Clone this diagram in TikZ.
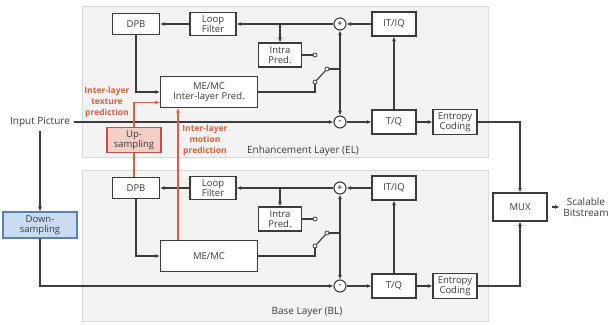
\documentclass[tikz,border=0pt]{standalone}
\usepackage{fontspec}
\setmainfont{Open Sans}
\usetikzlibrary{arrows.meta,calc}

\definecolor{lngray}{HTML}{3C3C3C}
\definecolor{layerfill}{HTML}{F3F3F3}
\definecolor{layerline}{HTML}{DADADA}
\definecolor{ilred}{HTML}{D6623F}
\definecolor{upfill}{HTML}{F4CFC7}
\definecolor{upline}{HTML}{C0504D}
\definecolor{downfill}{HTML}{C9DCF2}
\definecolor{downline}{HTML}{5A80B8}

\tikzset{
  blk/.style={draw=lngray, line width=1.1pt, fill=white, align=center, inner sep=1pt,
    font=\fontsize{9.5}{10}\selectfont},
  sum/.style={circle, draw=lngray, line width=1.1pt, fill=white, minimum size=12pt,
    inner sep=0pt, font=\fontsize{8}{8}\selectfont\bfseries},
  term/.style={circle, draw=lngray, line width=0.8pt, fill=white, minimum size=4pt, inner sep=0pt},
  lay/.style={fill=layerfill, draw=layerline, line width=0.8pt},
  arr/.style={-{Latex[length=4.5pt,width=4pt]}},
  ilink/.style={draw=ilred, line width=1.2pt},
  ilabel/.style={text=ilred, font=\fontsize{8.5}{11}\selectfont\bfseries, align=center},
  txt/.style={font=\fontsize{10}{11}\selectfont, align=center},
}

\begin{document}
\begin{tikzpicture}[x=1pt, y=-1pt, line width=1.1pt, color=lngray]
  \useasboundingbox (0,0) rectangle (610,324);
  % layer backgrounds
  \filldraw[lay] (82,6) rectangle (488,157);
  \filldraw[lay] (82,170) rectangle (488,321);

  \node[blk, minimum width=97pt, minimum height=31pt] (meE) at (209,92) {ME/MC\\Inter-layer Pred.};
  \node[blk, minimum width=97pt, minimum height=31pt] (meB) at (209,256) {ME/MC};

  % the same coding loop in both layers
  \foreach \L/\dy in {E/0,B/164}{
    \node[blk, minimum width=47pt, minimum height=21pt] (dpb\L) at (136,24+\dy) {DPB};
    \node[blk, minimum width=46pt, minimum height=23pt] (lf\L) at (213,24+\dy) {Loop\\Filter};
    \node[blk, minimum width=43pt, minimum height=24pt] (ip\L) at (280,55+\dy) {Intra\\Pred.};
    \node[sum] (add\L) at (340,24+\dy) {+};
    \node[blk, minimum width=44pt, minimum height=24pt] (itiq\L) at (394,24+\dy) {IT/IQ};
    \node[sum] (sub\L) at (340,122+\dy) {-};
    \node[blk, minimum width=44pt, minimum height=24pt] (tq\L) at (394,122+\dy) {T/Q};
    \node[blk, minimum width=44pt, minimum height=25pt] (ec\L) at (455,122+\dy) {Entropy\\Coding};
    \node[term] (ipo\L) at (315,55+\dy) {};
    \node[term] (swa\L) at (315,82+\dy) {};
    \node[term] (swb\L) at (327,69+\dy) {};
    \coordinate (sw\L) at (340,69+\dy);

    \draw[arr] (add\L) -- (lf\L);
    \draw[arr] (lf\L) -- (dpb\L);
    \draw[arr] (ip\L.north |- add\L) -- (ip\L.north);
    \draw[arr] (dpb\L) |- (me\L);
    \draw (ip\L) -- (ipo\L);
    \draw (me\L) -| (swa\L);
    \draw (swa\L) -- (swb\L);
    \draw (swb\L) -- (sw\L);
    \draw[arr] (sw\L) -- (add\L);
    \draw[arr] (sw\L) -- (sub\L);
    \draw[arr] (itiq\L) -- (add\L);
    \draw[arr] (tq\L) -- (itiq\L);
    \draw[arr] (sub\L) -- (tq\L);
    \draw[arr] (tq\L) -- (ec\L);
  }

  \node[txt] (inp) at (40,122) {Input Picture};
  \node[blk, fill=downfill, draw=downline, minimum width=74pt, minimum height=26pt] (down) at (40,225) {Down-\\sampling};
  \node[blk, fill=upfill, draw=upline, minimum width=54pt, minimum height=25pt] (up) at (134,140) {Up-\\sampling};
  \node[blk, minimum width=54pt, minimum height=28pt] (mux) at (520,207) {MUX};
  \node[txt] (out) at (586,207) {Scalable\\Bitstream};
  \node[txt] (elLbl) at (303,151) {Enhancement Layer (EL)};
  \node[txt] (blLbl) at (307,312) {Base Layer (BL)};
  \node[ilabel] (texLbl) at (107,102) {Inter-layer\\texture\\prediction};
  \node[ilabel] (motLbl) at (205,140) {Inter-layer\\motion\\prediction};

  \draw[arr] (inp) -- (subE);
  \draw[arr] (inp) -- (down);
  \draw[arr] (down) |- (subB);
  \draw[arr] (ecE) -| (mux);
  \draw[arr] (ecB) -| (mux);
  \draw[arr, shorten <=4pt] (mux) -- (out);

  % inter-layer prediction
  \draw[ilink] (dpbB.north -| up) -- (up);
  \draw[ilink, arr] (up) |- ($(meE.west)+(0,10.5)$);
  \draw[ilink, arr] ($(meB.north)+(-31,0)$) -- ($(meE.south)+(-31,0)$);
\end{tikzpicture}
\end{document}
